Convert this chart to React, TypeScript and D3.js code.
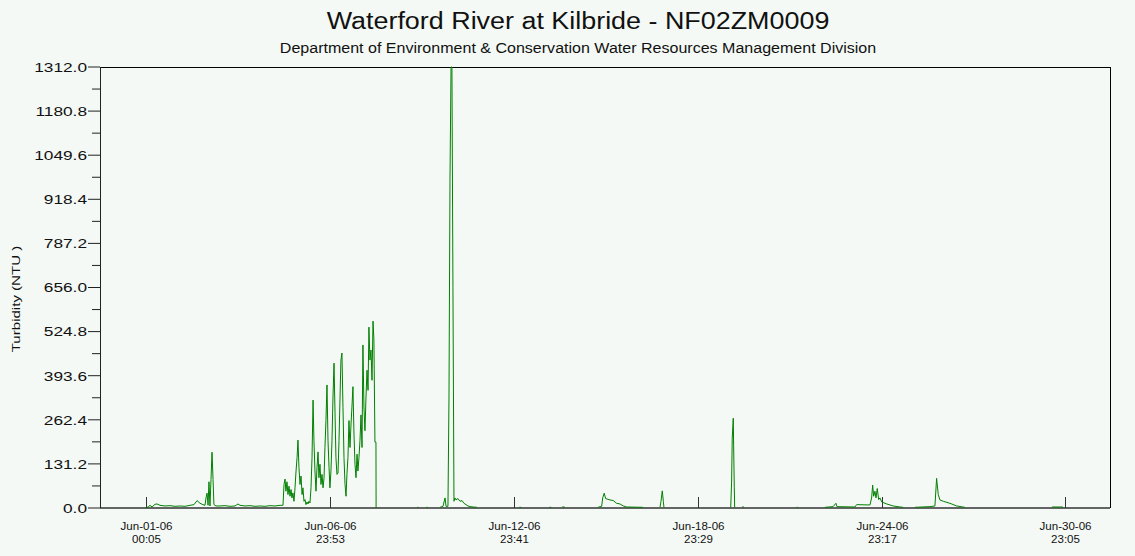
import React from 'react';
import * as d3 from 'd3';

const title = 'Waterford River at Kilbride - NF02ZM0009';
const subtitle = 'Department of Environment & Conservation Water Resources Management Division';
const yLabel = 'Turbidity (NTU )';

// readings: [hours since Jun-01-06 00:00, turbidity in NTU]
const earlyJune: [number, number][] = [
  [0.1, 4], [1.6, 2], [3.2, 8], [4.8, 3], [7.1, 11], [8.7, 12], [11.0, 8], [14.9, 6], [18.8, 7],
  [22.8, 5], [26.7, 6], [30.6, 5], [34.5, 8], [37.6, 10], [40.0, 22], [42.3, 14], [44.6, 10],
  [46.2, 8], [47.0, 30], [47.8, 44], [48.6, 8], [49.3, 78], [50.1, 6], [50.9, 85], [51.7, 166],
  [52.5, 85], [53.2, 10], [54.8, 6], [57.9, 6], [61.8, 7], [65.8, 5], [69.7, 6], [72.0, 12],
  [73.6, 8], [77.5, 6], [81.4, 7], [85.3, 5], [89.2, 6], [93.1, 5], [97.0, 7], [100.9, 6],
  [104.9, 8], [107.2, 8],
];

const stormJune5: [number, number][] = [
  [108.0, 70], [108.8, 86], [109.5, 50], [110.3, 78], [111.1, 40], [111.9, 65], [112.7, 35],
  [113.5, 55], [114.2, 30], [115.0, 45], [115.8, 20], [116.6, 60], [117.4, 110], [118.2, 150],
  [118.9, 202], [119.7, 120], [120.5, 70], [121.3, 95], [122.1, 40], [122.8, 60], [123.6, 20],
  [124.4, 25], [125.2, 10], [126.0, 18], [126.7, 12], [127.5, 20], [128.3, 15], [129.1, 60],
  [129.9, 150], [130.7, 321], [131.4, 200], [132.2, 110], [133.0, 50], [133.8, 120], [134.6, 167],
  [135.3, 90], [136.1, 130], [136.9, 70], [137.7, 100], [138.5, 60], [139.3, 90], [140.0, 180],
  [140.8, 260], [141.6, 366], [142.4, 200], [143.2, 120], [143.9, 60], [144.7, 110], [145.5, 200],
  [146.3, 330], [147.1, 431], [147.9, 280], [148.6, 150], [149.4, 100], [150.2, 104], [151.0, 200],
  [151.8, 330], [152.5, 440], [153.3, 461], [154.1, 300], [154.9, 150], [155.7, 70], [156.5, 35],
  [157.2, 100], [158.0, 150], [158.8, 260], [159.6, 180], [160.4, 250], [161.1, 300], [161.9, 361],
  [162.7, 220], [163.5, 130], [164.3, 90], [165.1, 160], [165.8, 110], [166.6, 150], [167.4, 200],
  [168.2, 277], [169.0, 180], [169.7, 485], [170.5, 300], [171.3, 230], [172.1, 330], [172.9, 410],
  [173.7, 350], [174.4, 538], [175.2, 440], [176.0, 470], [176.8, 380], [177.6, 556], [178.3, 500],
  [179.1, 196], [179.9, 196], [180.0, 0],
];

const spikeJune10: [number, number][] = [
  [230.0, 2], [232.3, 5], [233.9, 30], [234.7, 5], [236.2, 5], [237.0, 330], [237.8, 985],
  [238.6, 1312], [239.3, 1312], [240.1, 657], [240.9, 20], [241.7, 30], [242.5, 24], [244.0, 28],
  [245.6, 20], [247.2, 22], [248.7, 14], [250.3, 10], [251.9, 6], [253.4, 4], [255.8, 3], [258.9, 2],
];

const riseJune15: [number, number][] = [
  [353.5, 2], [356.4, 5], [357.2, 30], [358.4, 44], [359.5, 28], [362.9, 24], [365.5, 22],
  [368.1, 14], [370.7, 12], [373.3, 6], [376.0, 3], [388.7, 2],
];

const spikeJune17: [number, number][] = [[402.0, 2], [402.8, 20], [403.8, 51], [404.6, 20], [405.1, 2]];

const spikeJune20: [number, number][] = [
  [457.3, 2], [458.0, 77], [458.5, 208], [459.3, 267], [459.6, 185], [460.1, 60], [460.4, 2],
];

const eventJune23: [number, number][] = [
  [531.0, 2], [537.3, 4], [539.6, 14], [540.4, 4], [554.4, 3], [555.8, 10], [566.2, 9], [567.5, 30],
  [568.3, 68], [569.1, 35], [570.1, 50], [570.9, 30], [571.9, 58], [573.0, 25], [574.0, 30],
  [575.4, 18], [579.3, 12], [584.4, 6], [589.7, 3], [592.2, 2],
];

const eventJune26: [number, number][] = [
  [601.4, 2], [613.1, 4], [617.0, 6], [618.3, 88], [619.6, 40], [620.9, 24], [623.5, 20],
  [628.7, 14], [634.0, 6], [640.4, 2],
];

const shortBursts: [number, number][][] = [
  [[212.0, 2], [213.0, 2]], [[219.5, 2], [220.5, 2]], [[292.0, 2], [293.5, 2]],
  [[315.5, 2], [317.0, 2]], [[325.5, 3], [327.5, 3]], [[466.1, 3], [467.6, 3]],
  [[509.0, 2], [510.0, 2]], [[708.5, 3], [717.1, 3]],
];

const yTicks = [0, 131.2, 262.4, 393.6, 524.8, 656.0, 787.2, 918.4, 1049.6, 1180.8, 1312.0];
const xTickHours = [0.083, 143.883, 287.683, 431.483, 575.283, 719.083];
const xTickDays = ['Jun-01-06', 'Jun-06-06', 'Jun-12-06', 'Jun-18-06', 'Jun-24-06', 'Jun-30-06'];
const xTickClock = ['00:05', '23:53', '23:41', '23:29', '23:17', '23:05'];
const domainHours = [-35.9, 753.9];

const W = 1135;
const H = 556;
const plot = { left: 100, right: 1110, top: 67, bottom: 508 };
const bg = '#f4f9f5';
const font = '"Liberation Sans", Arial, sans-serif';
const base = new Date(2006, 5, 1, 0, 0).getTime();
const toDate = (h: number) => new Date(base + h * 3600e3);

function Label({ x, y, size, sx, anchor = 'middle', rotate = 0, children }: any) {
  return (
    <text
      transform={`translate(${x},${y}) rotate(${rotate}) scale(${sx},1)`}
      fontSize={size}
      textAnchor={anchor}
      fontFamily={font}
      fill="#111"
    >
      {children}
    </text>
  );
}

export default function App() {
  const x = d3.scaleTime().domain(domainHours.map(toDate)).range([plot.left, plot.right]);
  const y = d3.scaleLinear().domain([0, 1312]).range([plot.bottom, plot.top]);
  const line = d3
    .line<[number, number]>()
    .x((d) => x(toDate(d[0])))
    .y((d) => y(d[1]));

  const runs = [
    [...earlyJune, ...stormJune5],
    spikeJune10,
    riseJune15,
    spikeJune17,
    spikeJune20,
    eventJune23,
    eventJune26,
    ...shortBursts,
  ];
  const minorTicks = yTicks.slice(1).map((t, i) => (t + yTicks[i]) / 2);

  return (
    <svg width={W} height={H} style={{ position: 'absolute', left: 0, top: 0 }}>
      <rect width={W} height={H} fill={bg} />

      <Label x={578} y={29} size={23} sx={1.17}>{title}</Label>
      <Label x={578} y={53} size={15} sx={1.07}>{subtitle}</Label>
      <Label x={20} y={299} size={11.6} sx={1.3} rotate={-90}>{yLabel}</Label>

      {/* y axis */}
      {yTicks.map((t) => (
        <g key={t}>
          <line x1={88} x2={plot.left} y1={y(t)} y2={y(t)} stroke="#222" />
          <Label x={87} y={y(t) + 4.8} size={13.3} sx={1.3} anchor="end">
            {d3.format('.1f')(t)}
          </Label>
        </g>
      ))}
      {minorTicks.map((t) => (
        <line key={t} x1={92} x2={plot.left} y1={y(t)} y2={y(t)} stroke="#222" />
      ))}

      {/* x ticks */}
      {xTickHours.map((h, i) => {
        const px = Math.round(x(toDate(h))) + 0.5;
        return (
          <g key={h}>
            <line x1={px} x2={px} y1={plot.bottom} y2={plot.bottom - 11} stroke="#333" />
            <Label x={px} y={529.5} size={10.5} sx={1.1}>{xTickDays[i]}</Label>
            <Label x={px} y={543} size={10.5} sx={1.1}>{xTickClock[i]}</Label>
          </g>
        );
      })}

      {/* frame */}
      <line x1={plot.left} x2={plot.right} y1={plot.bottom} y2={plot.bottom} stroke="#333" strokeWidth={1.5} />
      <line x1={plot.left} x2={plot.right} y1={plot.top + 0.5} y2={plot.top + 0.5} stroke="#000" />
      <line x1={plot.left + 0.5} x2={plot.left + 0.5} y1={plot.top} y2={plot.bottom} stroke="#222" />
      <line x1={plot.right + 0.5} x2={plot.right + 0.5} y1={plot.top} y2={plot.bottom} stroke="#000" />

      {/* series */}
      {runs.map((r, i) => (
        <path key={i} d={line(r) || ''} fill="none" stroke="#008000" strokeWidth={1} />
      ))}
    </svg>
  );
}
